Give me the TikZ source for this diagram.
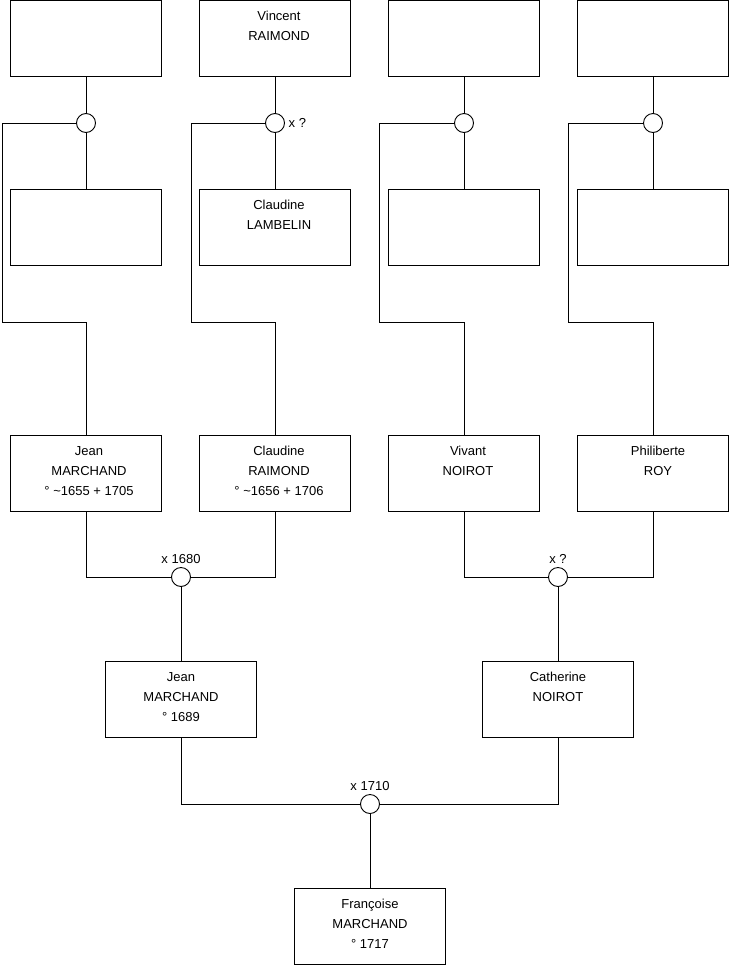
\documentclass[tikz,border=0pt]{standalone}
\usepackage{fontspec}
\setmainfont{Liberation Sans}
\usetikzlibrary{positioning}

\tikzset{
  box/.style={draw, minimum width=151pt, minimum height=76pt, inner sep=0pt},
  union/.style={draw, circle, minimum size=19pt, inner sep=0pt, fill=white},
  who/.style={anchor=north, align=center, inner sep=0pt, yshift=-11.5pt},
  wire/.style={line width=0.9pt},
}

\begin{document}
\begin{tikzpicture}[x=1pt, y=-1pt, line width=0.9pt,
    font=\fontsize{13}{20}\selectfont]
  \useasboundingbox (0,0) rectangle (740,975);

  % Great-grandparents, fathers
  \node[box] (gp1) at (86,38) {};
  \node[box, label={[who, xshift=4pt]north:{Vincent\\RAIMOND}}] (vr) at (275,38) {};
  \node[box] (gp5) at (464,38) {};
  \node[box] (gp7) at (653,38) {};

  % Great-grandparents, mothers
  \node[box] (gm1) at (86,227) {};
  \node[box, label={[who, xshift=4pt]north:{Claudine\\LAMBELIN}}] (cl) at (275,227) {};
  \node[box] (gm5) at (464,227) {};
  \node[box] (gm7) at (653,227) {};

  % Unions, top
  \node[union] (u1) at (86,123) {};
  \node[union, label={east:x ?}] (u2) at (275,123) {};
  \node[union] (u3) at (464,123) {};
  \node[union] (u4) at (653,123) {};

  % Grandparents
  \node[box, label={[who, xshift=3pt]north:{Jean\\MARCHAND\\° \textasciitilde1655 + 1705}}] (jm1) at (86,473) {};
  \node[box, label={[who, xshift=4pt]north:{Claudine\\RAIMOND\\° \textasciitilde1656 + 1706}}] (cr) at (275,473) {};
  \node[box, label={[who, xshift=4pt]north:{Vivant\\NOIROT}}] (vn) at (464,473) {};
  \node[box, label={[who, xshift=5pt]north:{Philiberte\\ROY}}] (pr) at (653,473) {};

  % Unions, middle
  \node[union, label={above:x 1680}] (u5) at (181,577) {};
  \node[union, label={above:x ?}] (u6) at (558,577) {};

  % Parents
  \node[box, label={[who]north:{Jean\\MARCHAND\\° 1689}}] (jm2) at (181,699) {};
  \node[box, label={[who]north:{Catherine\\NOIROT}}] (cn) at (558,699) {};

  \node[union, label={above:x 1710}] (u7) at (370,804) {};

  \node[box, label={[who]north:{Françoise\\MARCHAND\\° 1717}}] (fm) at (370,926) {};

  % Bends of the long wires
  \coordinate (k1) at (2,322);
  \coordinate (k2) at (191,322);
  \coordinate (k3) at (379,322);
  \coordinate (k4) at (568,322);

  % Top couples
  \draw[wire] (gp1) -- (u1) -- (gm1);
  \draw[wire] (vr) -- (u2) -- (cl);
  \draw[wire] (gp5) -- (u3) -- (gm5);
  \draw[wire] (gp7) -- (u4) -- (gm7);

  % Children of top couples
  \draw[wire] (u1.west) -| (k1) -| (jm1.north);
  \draw[wire] (u2.west) -| (k2) -| (cr.north);
  \draw[wire] (u3.west) -| (k3) -| (vn.north);
  \draw[wire] (u4.west) -| (k4) -| (pr.north);

  % Middle couples
  \draw[wire] (jm1.south) |- (u5.west);
  \draw[wire] (cr.south) |- (u5.east);
  \draw[wire] (u5) -- (jm2);
  \draw[wire] (vn.south) |- (u6.west);
  \draw[wire] (pr.south) |- (u6.east);
  \draw[wire] (u6) -- (cn);

  % Last couple
  \draw[wire] (jm2.south) |- (u7.west);
  \draw[wire] (cn.south) |- (u7.east);
  \draw[wire] (u7) -- (fm);
\end{tikzpicture}
\end{document}
